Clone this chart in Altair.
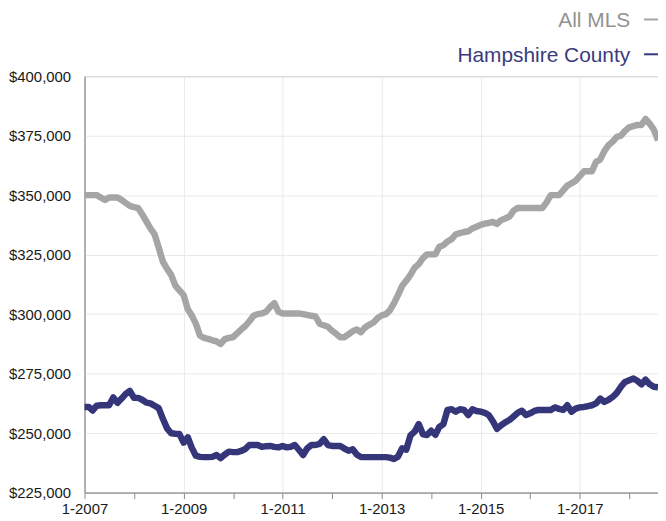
import altair as alt
import pandas as pd

# Monthly points, Jan 2007 .. Aug 2018
months = pd.date_range("2007-01-01", periods=140, freq="MS").strftime("%Y-%m-%d").tolist()

series_names = ["All MLS", "Hampshire County"]
series_colors = ["#a5a5a5", "#35357a"]
legend_text_colors = ["#929292", "#3a3a7c"]

all_mls = [
    350, 350, 350, 350, 349, 348, 349, 349, 349, 348,
    346.7, 345.5, 345, 344.5, 342, 339, 336, 333.5, 328, 322,
    319, 316.5, 312, 310, 308, 302, 299.5, 296, 291, 290,
    289.6, 289, 288.5, 287.5, 289.5, 290, 290.3, 292, 293.5, 295,
    297, 299.3, 300, 300.3, 301, 303, 304.6, 301, 300.3, 300.3,
    300.3, 300.3, 300.3, 300, 299.7, 299.3, 299, 296, 295.3, 294.7,
    293, 291.7, 290.3, 290.3, 291.5, 292.8, 293.5, 292.4, 294.4, 295.5,
    296.5, 298.3, 299.5, 300, 301.5, 304.5, 308, 311.9, 314, 316.5,
    319.5, 321, 323.5, 325.1, 325.1, 325.1, 328.2, 329, 330.5, 331.5,
    333.5, 334, 334.5, 334.8, 336, 336.7, 337.5, 338, 338.3, 338.7,
    337.9, 339.5, 340.2, 341, 343.5, 344.6, 344.6, 344.6, 344.6, 344.6,
    344.6, 344.6, 347, 350, 350, 350, 352, 354, 355, 356,
    358, 360, 360, 360, 364, 365, 368.5, 371, 372.5, 374.5,
    375, 377, 378.5, 379, 379.5, 379.5, 382, 380, 377.5, 373,
]

hampshire = [
    261, 261, 259.5, 261.5, 261.7, 261.7, 261.7, 265, 262.7, 264.5,
    266.5, 267.7, 264.8, 264.8, 264, 262.8, 262.5, 261.5, 260.5, 256,
    252, 249.9, 249.7, 249.6, 246, 248.2, 244, 240.5, 240, 239.9,
    239.9, 240, 240.8, 239.5, 241, 242.2, 242, 242, 242.5, 243.3,
    245, 245, 245, 244.2, 244.5, 244.6, 244.2, 244, 244.6, 244,
    244.2, 245, 243, 240.8, 243.5, 245, 245, 245.5, 247.4, 245,
    244.6, 244.6, 244.6, 243.5, 242.6, 243.2, 241, 239.9, 239.9, 239.9,
    239.9, 239.9, 239.9, 239.9, 239.7, 239.1, 240.1, 243.6, 243, 249,
    250.6, 253.8, 249.5, 249.2, 251, 249.3, 252.5, 253.8, 259.7, 260,
    259, 260, 259.7, 257.6, 260, 259.3, 259, 258.5, 257.6, 255,
    251.8, 253.3, 254.5, 255.5, 257, 258.5, 259.4, 257.6, 258.3, 259.3,
    259.7, 259.7, 259.7, 259.7, 260.8, 260.2, 259.7, 261.7, 259, 260.3,
    260.8, 261, 261.3, 261.7, 262.5, 264.5, 263.1, 264, 265.2, 266.9,
    269.5, 271.5, 272.2, 272.9, 272, 270.5, 272.5, 270.5, 269.5, 269.3,
]

y_ticks = [225000, 250000, 275000, 300000, 325000, 350000, 375000, 400000]
x_years = list(range(2007, 2019))

df = pd.DataFrame({
    "month": months * 2,
    "value": [v * 1000 for v in all_mls] + [v * 1000 for v in hampshire],
    "series": [series_names[0]] * len(months) + [series_names[1]] * len(months),
})

FONT = "Liberation Sans"

x_enc = alt.X(
    "month:T",
    scale=alt.Scale(
        type="utc",
        domain=[alt.DateTime(year=2007, month=1, date=1, utc=True),
                alt.DateTime(year=2018, month=8, date=1, utc=True)],
    ),
    axis=alt.Axis(
        title=None,
        values=[alt.DateTime(year=y, month=1, date=1, utc=True) for y in x_years],
        format="%-m-%Y",
        labelExpr="utcyear(datum.value) % 2 == 1 ? datum.label : ''",
        labelFlush=False,
        labelOverlap=False,
        labelFont=FONT,
        labelFontSize=15,
        labelColor="#1a1a1a",
        labelPadding=3,
        tickSize=6,
        tickColor="#8a8a8a",
        domainColor="#8a8a8a",
        gridColor="#e9e9e9",
        gridOpacity={"condition": {"test": "utcyear(datum.value) % 2 == 0", "value": 0}, "value": 1},
    ),
)

y_enc = alt.Y(
    "value:Q",
    scale=alt.Scale(domain=[225000, 400000], nice=False, zero=False),
    axis=alt.Axis(
        title=None,
        values=y_ticks,
        format="$,.0f",
        labelFont=FONT,
        labelFontSize=15,
        labelColor="#1a1a1a",
        labelPadding=14,
        ticks=False,
        domainColor="#8a8a8a",
        gridColor="#e9e9e9",
    ),
)

lines = alt.Chart(df).mark_line(strokeWidth=6.5, strokeJoin="round").encode(
    x=x_enc,
    y=y_enc,
    color=alt.Color("series:N", scale=alt.Scale(domain=series_names, range=series_colors), legend=None),
)

legend_layers = []
legend_text_y = [-49.5, -14.5]
legend_dash_y = [-57, -22]
for name, lc, tc, ty, dy in zip(series_names, series_colors, legend_text_colors, legend_text_y, legend_dash_y):
    t = alt.Chart(pd.DataFrame({"label": [name]})).mark_text(
        align="right", baseline="alphabetic", font=FONT, fontSize=21, color=tc
    ).encode(x=alt.value(549), y=alt.value(ty), text="label:N")
    r = alt.Chart(pd.DataFrame({"label": [name]})).mark_rule(strokeWidth=2, color=lc).encode(
        x=alt.value(563), x2=alt.value(577), y=alt.value(dy)
    )
    legend_layers += [t, r]

chart = alt.layer(lines, *legend_layers).properties(
    width=577, height=419, padding={"top": 0, "left": 0, "bottom": 0, "right": -4}
).configure_view(stroke="#8a8a8a", strokeWidth=1)

chart.save("out.html", embed_options={"renderer": "svg", "actions": False})
